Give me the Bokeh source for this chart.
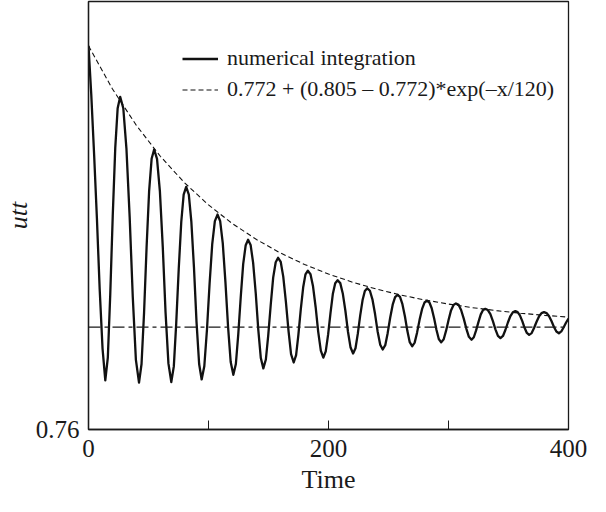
from bokeh.plotting import figure
from bokeh.models import Range1d, FixedTicker, Span, Legend, LegendItem
from bokeh.embed import file_html
from bokeh.resources import INLINE

# ---- data ----
# numerical integration: extrema and points along each flank
time_num = [
    0.0, 2.3, 4.7, 7.0, 9.3, 11.7, 14.0,
    16.1, 18.1, 20.2, 22.3, 24.3, 26.4,
    29.0, 31.6, 34.3, 36.9, 39.5, 42.1,
    44.2, 46.3, 48.4, 50.5, 52.6, 54.7,
    57.1, 59.5, 61.9, 64.2, 66.6, 69.0,
    71.1, 73.1, 75.2, 77.3, 79.3, 81.4,
    83.6, 85.7, 87.9, 90.0, 92.2, 94.3,
    96.5, 98.7, 100.9, 103.1, 105.3, 107.5,
    109.7, 111.9, 114.1, 116.3, 118.5, 120.7,
    122.8, 124.8, 126.9, 128.9, 131.0, 133.0,
    135.1, 137.2, 139.4, 141.5, 143.6, 145.7,
    147.8, 149.8, 151.9, 153.9, 156.0, 158.0,
    160.2, 162.3, 164.5, 166.7, 168.8, 171.0,
    173.0, 174.9, 176.9, 178.9, 180.8, 182.8,
    185.0, 187.1, 189.3, 191.4, 193.6, 195.7,
    197.7, 199.7, 201.7, 203.6, 205.6, 207.6,
    209.8, 211.9, 214.1, 216.2, 218.4, 220.5,
    222.5, 224.4, 226.4, 228.4, 230.3, 232.3,
    234.5, 236.6, 238.8, 240.9, 243.1, 245.2,
    247.3, 249.3, 251.4, 253.5, 255.5, 257.6,
    259.6, 261.6, 263.7, 265.7, 267.7, 269.7,
    271.8, 273.8, 275.9, 278.0, 280.0, 282.1,
    284.1, 286.0, 288.0, 290.0, 291.9, 293.9,
    296.0, 298.0, 300.1, 302.1, 304.2, 306.2,
    308.4, 310.5, 312.7, 314.9, 317.0, 319.2,
    321.1, 323.0, 325.0, 326.9, 328.8, 330.7,
    332.8, 334.9, 337.0, 339.1, 341.2, 343.3,
    345.4, 347.4, 349.5, 351.6, 353.6, 355.7,
    357.6, 359.5, 361.5, 363.4, 365.3, 367.2,
    369.3, 371.3, 373.4, 375.5, 377.5, 379.6,
    381.7, 383.7, 385.8, 387.9, 389.9, 392.0,
    394.0, 396.0, 398.0, 400.0,
]
utt_num = [
    0.80500, 0.79930, 0.79220, 0.78480, 0.77650, 0.76950, 0.76576,
    0.76842, 0.77574, 0.78505, 0.79303, 0.79769, 0.79902,
    0.79768, 0.79298, 0.78494, 0.77555, 0.76817, 0.76549,
    0.76768, 0.77370, 0.78135, 0.78792, 0.79175, 0.79284,
    0.79175, 0.78793, 0.78139, 0.77375, 0.76775, 0.76557,
    0.76740, 0.77244, 0.77885, 0.78434, 0.78754, 0.78846,
    0.78756, 0.78439, 0.77897, 0.77265, 0.76768, 0.76587,
    0.76742, 0.77167, 0.77709, 0.78173, 0.78444, 0.78521,
    0.78446, 0.78183, 0.77731, 0.77205, 0.76791, 0.76641,
    0.76768, 0.77116, 0.77560, 0.77940, 0.78162, 0.78225,
    0.78165, 0.77954, 0.77592, 0.77169, 0.76838, 0.76717,
    0.76821, 0.77106, 0.77469, 0.77781, 0.77962, 0.78014,
    0.77965, 0.77793, 0.77498, 0.77154, 0.76884, 0.76786,
    0.76872, 0.77109, 0.77410, 0.77668, 0.77819, 0.77862,
    0.77821, 0.77679, 0.77434, 0.77149, 0.76925, 0.76843,
    0.76916, 0.77115, 0.77370, 0.77588, 0.77715, 0.77751,
    0.77717, 0.77596, 0.77390, 0.77150, 0.76961, 0.76892,
    0.76953, 0.77121, 0.77335, 0.77518, 0.77625, 0.77656,
    0.77627, 0.77527, 0.77354, 0.77153, 0.76995, 0.76938,
    0.76989, 0.77130, 0.77310, 0.77464, 0.77553, 0.77579,
    0.77555, 0.77470, 0.77326, 0.77157, 0.77024, 0.76976,
    0.77019, 0.77136, 0.77286, 0.77414, 0.77489, 0.77510,
    0.77490, 0.77422, 0.77305, 0.77168, 0.77061, 0.77022,
    0.77059, 0.77159, 0.77287, 0.77397, 0.77461, 0.77479,
    0.77462, 0.77402, 0.77300, 0.77181, 0.77087, 0.77053,
    0.77082, 0.77162, 0.77263, 0.77350, 0.77401, 0.77415,
    0.77401, 0.77353, 0.77271, 0.77175, 0.77099, 0.77072,
    0.77097, 0.77167, 0.77255, 0.77331, 0.77375, 0.77388,
    0.77377, 0.77338, 0.77271, 0.77193, 0.77132, 0.77110,
    0.77131, 0.77190, 0.77264, 0.77328, 0.77365, 0.77376,
    0.77366, 0.77332, 0.77272, 0.77203, 0.77149, 0.77129,
    0.77150, 0.77200, 0.77255, 0.77300,
]
# fitted envelope 0.772 + 0.033*exp(-x/120), values read at every 20 units
fit_t = [0, 20, 40, 60, 80, 100, 120, 140, 160, 180, 200,
         220, 240, 260, 280, 300, 320, 340, 360, 380, 400]
fit_u = [0.80500, 0.79993, 0.79565, 0.79202, 0.78894, 0.78634, 0.78414,
         0.78228, 0.78070, 0.77936, 0.77823, 0.77728, 0.77647, 0.77578,
         0.77520, 0.77471, 0.77429, 0.77394, 0.77364, 0.77339, 0.77318]
asymptote = 0.772
x_major_ticks = [0, 200, 400]
x_minor_ticks = [100, 300]
y_ticks = [0.76]
label_num = "numerical integration"
label_fit = "0.772 + (0.805 \u2013 0.772)*exp(\u2013x/120)"

SERIF = "Liberation Serif"
INK = "#1a1a1a"

p = figure(width=590, height=496,
           x_range=Range1d(0, 400), y_range=Range1d(0.76, 0.8102),
           output_backend="svg", toolbar_location=None,
           min_border_left=83, min_border_right=22,
           min_border_top=1, min_border_bottom=10)

p.xgrid.visible = False
p.ygrid.visible = False
p.outline_line_color = INK
p.outline_line_width = 1.3
p.background_fill_color = "white"
p.border_fill_color = "white"

# x axis
xa = p.xaxis[0]
xa.ticker = FixedTicker(ticks=x_major_ticks, minor_ticks=x_minor_ticks)
xa.major_tick_in = 9
xa.major_tick_out = 0
xa.minor_tick_in = 9
xa.minor_tick_out = 0
xa.major_tick_line_color = INK
xa.minor_tick_line_color = INK
xa.axis_line_color = INK
xa.axis_line_width = 1.3
xa.major_label_text_font = SERIF
xa.major_label_text_font_size = "25px"
xa.major_label_text_color = INK
xa.major_label_standoff = 10
xa.axis_label = "Time"
xa.axis_label_text_font = SERIF
xa.axis_label_text_font_size = "26px"
xa.axis_label_text_font_style = "normal"
xa.axis_label_text_color = INK
xa.axis_label_standoff = 5

# y axis
ya = p.yaxis[0]
ya.ticker = FixedTicker(ticks=y_ticks)
ya.major_tick_in = 0
ya.major_tick_out = 0
ya.minor_tick_line_color = None
ya.axis_line_color = INK
ya.axis_line_width = 1.3
ya.major_label_text_font = SERIF
ya.major_label_text_font_size = "25px"
ya.major_label_text_color = INK
ya.major_label_standoff = 9
ya.axis_label = "utt"
ya.axis_label_text_font = SERIF
ya.axis_label_text_font_size = "26px"
ya.axis_label_text_font_style = "italic"
ya.axis_label_text_color = INK
ya.axis_label_standoff = 0

# horizontal asymptote
p.add_layout(Span(location=asymptote, dimension="width", line_color=INK,
                  line_width=1.2, line_dash="12 4 4 4"))

r_fit = p.line(fit_t, fit_u, line_color="#111111", line_width=1.1, line_dash="5 3")
r_num = p.line(time_num, utt_num, line_color="#111111", line_width=2.3,
               line_join="round")

legend = Legend(items=[LegendItem(label=label_num, renderers=[r_num]),
                       LegendItem(label=label_fit, renderers=[r_fit])],
                location=(94, 327), padding=0, spacing=5, margin=0,
                glyph_width=36, glyph_height=25, label_height=25,
                label_standoff=9, border_line_color=None,
                background_fill_alpha=0,
                label_text_font=SERIF, label_text_font_size="22px",
                label_text_color=INK)
p.add_layout(legend)

open("out.html", "w").write(file_html(p, INLINE))
